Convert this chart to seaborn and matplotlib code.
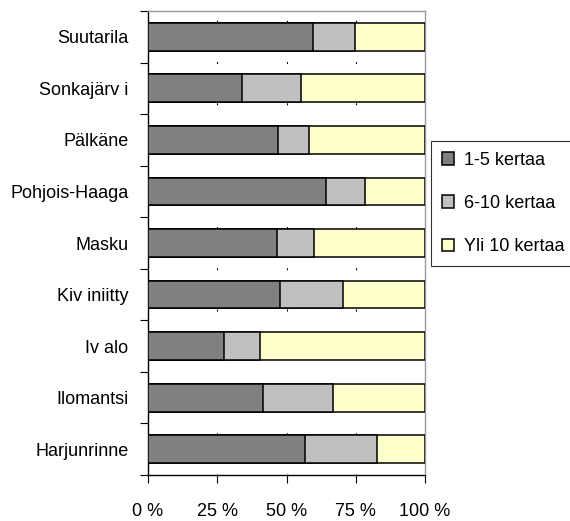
import matplotlib
matplotlib.use("Agg")
import matplotlib.pyplot as plt
from matplotlib.patches import Patch
from matplotlib.ticker import FixedLocator
import seaborn as sns
import pandas as pd
import numpy as np

# data (percent of answers)
places = ["Suutarila", "Sonkajärv i", "Pälkäne", "Pohjois-Haaga", "Masku",
          "Kiv iniitty", "Iv alo", "Ilomantsi", "Harjunrinne"]
kerta_1_5 = [59.6, 34.1, 47.1, 64.4, 46.5, 47.7, 27.4, 41.4, 56.5]
kerta_6_10 = [15.0, 21.1, 10.9, 13.9, 13.6, 22.7, 13.1, 25.4, 26.3]
kerta_yli_10 = [25.4, 44.8, 42.0, 21.7, 39.9, 29.6, 59.5, 33.2, 17.2]
series_names = ["1-5 kertaa", "6-10 kertaa", "Yli 10 kertaa"]
x_ticks = [0, 25, 50, 75, 100]
x_tick_labels = ["0 %", "25 %", "50 %", "75 %", "100 %"]

colors = ["#808080", "#c0c0c0", "#ffffcc"]

df = pd.DataFrame({"place": places, "a": kerta_1_5, "b": kerta_6_10, "c": kerta_yli_10})
df["cum_a"] = df["a"]
df["cum_b"] = df["a"] + df["b"]
df["cum_c"] = df["a"] + df["b"] + df["c"]

sns.set_theme(style="white")
plt.rcParams["font.family"] = ["Liberation Sans", "DejaVu Sans"]
plt.rcParams["text.color"] = "black"
plt.rcParams["xtick.color"] = "black"
plt.rcParams["ytick.color"] = "black"
fs = 13

fig = plt.figure(figsize=(5.7, 5.21), dpi=100)
ax = fig.add_axes([148 / 570, 1 - 475 / 521, 277 / 570, 464 / 521])

# stacked bars: draw the cumulative totals from the longest down
for col, color in zip(["cum_c", "cum_b", "cum_a"], colors[::-1]):
    sns.barplot(data=df, x=col, y="place", orient="h", color=color, saturation=1,
                edgecolor="black", linewidth=1.1, width=0.54, ax=ax, zorder=3)

ax.set_xlim(0, 100)
ax.set_ylim(len(places) - 0.5, -0.5)
ax.set_xlabel("")
ax.set_ylabel("")

# sparse dashed vertical grid, visible only in the gaps between bars
period = 464 / 9 * 72 / 100
for xv in x_ticks[1:-1]:
    ax.axvline(xv, color="black", lw=0.8, zorder=1,
               linestyle=(0.9, (1.8, period - 1.8)))

ax.set_xticks(x_ticks)
ax.set_xticklabels(x_tick_labels, fontsize=fs, color="black")
ax.tick_params(axis="x", direction="out", length=6, width=0.8, color="black",
               pad=14, bottom=True)

ax.yaxis.set_minor_locator(FixedLocator(np.arange(-0.5, len(places), 1.0)))
ax.tick_params(axis="y", which="major", length=0, pad=14, labelsize=fs,
               labelcolor="black")
ax.tick_params(axis="y", which="minor", direction="out", length=6, width=0.8,
               color="black", left=True)

for side in ["left", "bottom"]:
    ax.spines[side].set_color("black")
    ax.spines[side].set_linewidth(1.0)
for side in ["top", "right"]:
    ax.spines[side].set_color("#9a9a9a")
    ax.spines[side].set_linewidth(1.0)

handles = [Patch(facecolor=c, edgecolor="black", linewidth=1.1) for c in colors]
leg = fig.legend(handles, series_names, loc="upper left",
                 bbox_to_anchor=(431 / 570, 1 - 141 / 521), fontsize=fs,
                 frameon=True, fancybox=False, handlelength=0.7, handleheight=0.7,
                 handletextpad=0.55, labelspacing=1.45, borderpad=0.6,
                 borderaxespad=0)
leg.get_frame().set_edgecolor("black")
leg.get_frame().set_linewidth(0.8)

fig.savefig("out.png", dpi=100)
